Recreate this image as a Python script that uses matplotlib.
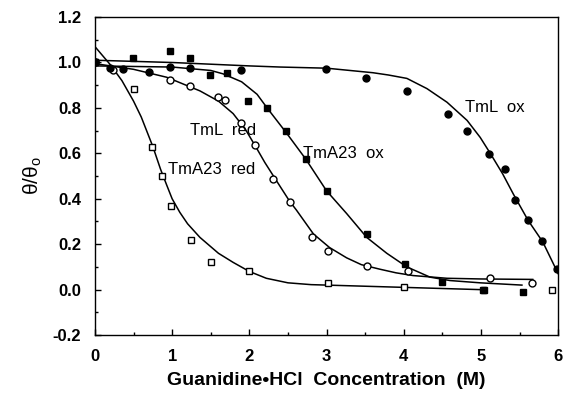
import matplotlib
matplotlib.use("Agg")
import matplotlib.pyplot as plt
from matplotlib.ticker import MultipleLocator, FormatStrFormatter

plt.rcParams["font.family"] = ["Liberation Sans", "DejaVu Sans"]
plt.rcParams["mathtext.default"] = "regular"

# measured points
a23_red_x = [0, 0.5, 0.74, 0.87, 0.98, 1.24, 1.5, 2.0, 3.02, 4.0, 5.04, 5.92]
a23_red_y = [1.0, 0.885, 0.63, 0.50, 0.37, 0.22, 0.12, 0.08, 0.03, 0.01, 0.0, 0.0]

tml_red_x = [0, 0.24, 0.97, 1.23, 1.6, 1.69, 1.89, 2.07, 2.31, 2.53, 2.81, 3.02, 3.53, 4.05, 5.12, 5.66]
tml_red_y = [1.0, 0.965, 0.925, 0.895, 0.85, 0.835, 0.735, 0.635, 0.485, 0.385, 0.23, 0.17, 0.105, 0.08, 0.05, 0.03]

a23_ox_x = [0, 0.49, 0.97, 1.23, 1.49, 1.71, 1.98, 2.23, 2.48, 2.73, 3.0, 3.52, 4.02, 4.5, 5.03, 5.55]
a23_ox_y = [1.0, 1.02, 1.05, 1.02, 0.945, 0.955, 0.83, 0.80, 0.70, 0.575, 0.435, 0.245, 0.115, 0.035, 0.0, -0.01]

tml_ox_x = [0, 0.19, 0.37, 0.7, 0.97, 1.23, 1.89, 2.99, 3.51, 4.04, 4.57, 4.82, 5.1, 5.31, 5.44, 5.61, 5.79, 5.98]
tml_ox_y = [1.0, 0.975, 0.97, 0.96, 0.98, 0.975, 0.965, 0.97, 0.93, 0.875, 0.775, 0.70, 0.595, 0.53, 0.395, 0.305, 0.215, 0.09]

# fitted curves
a23_red_fx = [0, 0.2, 0.35, 0.5, 0.6, 0.75, 0.85, 0.93, 1.0, 1.1, 1.2, 1.36, 1.6, 1.79, 2.0, 2.22, 2.5, 2.8, 3.0, 4.0, 5.0]
a23_red_fy = [1.07, 0.99, 0.92, 0.83, 0.76, 0.63, 0.53, 0.46, 0.40, 0.34, 0.29, 0.23, 0.16, 0.12, 0.08, 0.05, 0.03, 0.022, 0.02, 0.01, 0.0]

tml_red_fx = [0, 0.5, 0.93, 1.36, 1.6, 1.79, 1.95, 2.09, 2.2, 2.35, 2.52, 2.61, 2.83, 3.04, 3.26, 3.45, 3.69, 3.9, 4.12, 4.56, 5.0, 5.67]
tml_red_fy = [0.995, 0.97, 0.935, 0.875, 0.83, 0.775, 0.705, 0.625, 0.56, 0.48, 0.39, 0.35, 0.245, 0.185, 0.14, 0.11, 0.09, 0.074, 0.062, 0.05, 0.047, 0.045]

a23_ox_fx = [0, 1.0, 1.5, 1.66, 1.9, 2.1, 2.23, 2.48, 2.73, 3.0, 3.26, 3.52, 3.78, 4.04, 4.34, 4.6, 4.99, 5.53]
a23_ox_fy = [0.985, 0.98, 0.965, 0.95, 0.915, 0.86, 0.80, 0.69, 0.575, 0.435, 0.335, 0.23, 0.16, 0.10, 0.055, 0.04, 0.03, 0.02]

tml_ox_fx = [0, 1.0, 2.0, 2.4, 3.0, 3.6, 3.8, 4.04, 4.3, 4.56, 4.82, 4.99, 5.12, 5.28, 5.42, 5.61, 5.8, 6.0]
tml_ox_fy = [1.01, 1.0, 0.985, 0.98, 0.975, 0.955, 0.945, 0.93, 0.885, 0.825, 0.745, 0.67, 0.6, 0.51, 0.42, 0.305, 0.21, 0.07]

fig = plt.figure(figsize=(5.65, 3.97), dpi=100)
ax = fig.add_axes([0.168, 0.156, 0.820, 0.801])

for fx, fy in [(a23_red_fx, a23_red_fy), (tml_red_fx, tml_red_fy),
               (a23_ox_fx, a23_ox_fy), (tml_ox_fx, tml_ox_fy)]:
    ax.plot(fx, fy, color="black", lw=1.1, zorder=2)

ms = 5
ax.plot(a23_red_x, a23_red_y, "s", ms=ms, mfc="white", mec="black", mew=1.0, ls="none", zorder=3)
ax.plot(tml_red_x, tml_red_y, "o", ms=ms, mfc="white", mec="black", mew=1.0, ls="none", zorder=3)
ax.plot(a23_ox_x, a23_ox_y, "s", ms=ms, color="black", ls="none", zorder=4)
ax.plot(tml_ox_x, tml_ox_y, "o", ms=ms, color="black", ls="none", zorder=4)

lab = dict(fontsize=12, color="black", va="center", ha="left")
ax.text(4.79, 0.80, "TmL  ox", **lab)
ax.text(2.69, 0.60, "TmA23  ox", **lab)
ax.text(1.23, 0.70, "TmL  red", **lab)
ax.text(0.95, 0.53, "TmA23  red", **lab)

ax.set_xlim(0, 6)
ax.set_ylim(-0.2, 1.2)
ax.xaxis.set_major_locator(MultipleLocator(1))
ax.xaxis.set_minor_locator(MultipleLocator(0.5))
ax.yaxis.set_major_locator(MultipleLocator(0.2))
ax.yaxis.set_minor_locator(MultipleLocator(0.1))
ax.yaxis.set_major_formatter(FormatStrFormatter("%.1f"))
ax.tick_params(which="both", direction="in", width=1.0)
ax.tick_params(which="major", length=4, labelsize=12, pad=10)
ax.tick_params(which="minor", length=2.5)
for t in ax.get_xticklabels() + ax.get_yticklabels():
    t.set_fontweight("bold")
for s in ax.spines.values():
    s.set_linewidth(1.0)

ax.set_xlabel("Guanidine\u2022HCl  Concentration  (M)", fontsize=14, fontweight="bold", labelpad=6)
ax.set_ylabel(r"$\theta/\theta_o$", fontsize=15, labelpad=6)

fig.savefig("out.png", dpi=100)
